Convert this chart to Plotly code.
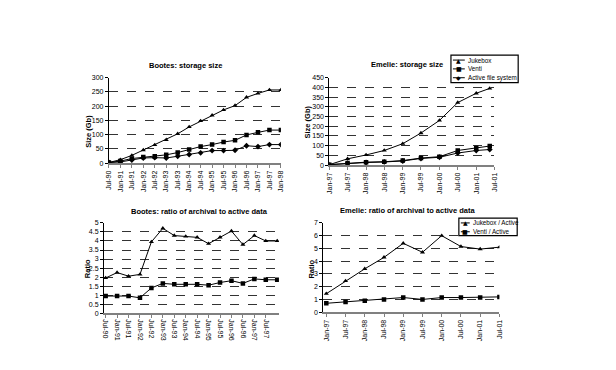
import plotly.graph_objects as go

# ---------------- data ----------------
bootes_size_labels = ["Jul-90", "Jan-91", "Jul-91", "Jan-92", "Jul-92", "Jan-93", "Jul-93", "Jan-94",
                      "Jul-94", "Jan-95", "Jul-95", "Jan-96", "Jul-96", "Jan-97", "Jul-97", "Jan-98"]
bootes_jukebox = [2, 12, 27, 46, 64, 82, 103, 127, 148, 168, 187, 202, 231, 245, 257, 257]
bootes_venti = [2, 7, 16, 21, 24, 29, 37, 48, 58, 65, 74, 80, 99, 108, 116, 116]
bootes_active = [2, 4, 11, 18, 19, 18, 24, 30, 36, 44, 44, 45, 61, 58, 65, 65]

bootes_ratio_labels = ["Jul-90", "Jan-91", "Jul-91", "Jan-92", "Jul-92", "Jan-93", "Jul-93", "Jan-94",
                       "Jul-94", "Jan-95", "Jul-95", "Jan-96", "Jul-96", "Jan-97", "Jul-97"]
bootes_ratio_jukebox = [1.95, 2.25, 2.05, 2.15, 3.95, 4.7, 4.3, 4.25, 4.2, 3.85, 4.2, 4.55, 3.8, 4.3, 4.0, 4.0]
bootes_ratio_venti = [0.95, 0.95, 0.95, 0.85, 1.4, 1.65, 1.6, 1.6, 1.6, 1.55, 1.7, 1.8, 1.65, 1.9, 1.85, 1.85]

emelie_dates = ["1997-01-01", "1997-07-01", "1998-01-01", "1998-07-01", "1999-01-01",
                "1999-07-01", "2000-01-01", "2000-07-01", "2001-01-01", "2001-05-15"]
emelie_tick_dates = ["1997-01-01", "1997-07-01", "1998-01-01", "1998-07-01", "1999-01-01",
                     "1999-07-01", "2000-01-01", "2000-07-01", "2001-01-01", "2001-07-01"]
emelie_labels = ["Jan-97", "Jul-97", "Jan-98", "Jul-98", "Jan-99", "Jul-99", "Jan-00", "Jul-00", "Jan-01", "Jul-01"]
emelie_jukebox = [2, 32, 52, 75, 110, 165, 230, 322, 370, 395]
emelie_venti = [2, 10, 15, 17, 23, 36, 43, 75, 88, 98]
emelie_active = [2, 9, 13, 16, 21, 34, 40, 62, 75, 80]

emelie_ratio_jukebox = [1.45, 2.45, 3.4, 4.3, 5.4, 4.7, 6.0, 5.15, 4.95, 5.1]
emelie_ratio_venti = [0.7, 0.8, 0.9, 1.0, 1.15, 1.0, 1.15, 1.15, 1.15, 1.2]

size_series_names = ["Jukebox", "Venti", "Active file system"]
ratio_series_names = ["Jukebox / Active", "Venti / Active"]

# ---------------- styling ----------------
W, H = 616, 370
FONT = "Liberation Sans, Arial, sans-serif"
line = dict(color="black", width=1)
SYMBOLS = ["triangle-up", "square", "diamond"]
GLYPHS = ["\u25B2", "\u25A0", "\u25C6"]


def px_x(x):
    return x / W


def px_y(y):
    return 1 - y / H


fig = go.Figure()


def add(x, y, xa, ya, name, symbol):
    fig.add_trace(go.Scatter(
        x=x, y=y, xaxis=xa, yaxis=ya, name=name, mode="lines+markers",
        line=line, marker=dict(symbol=symbol, size=4.5, color="black"),
        showlegend=False))


idx16 = list(range(len(bootes_jukebox)))
for vals, name, sym in zip([bootes_jukebox, bootes_venti, bootes_active], size_series_names, SYMBOLS):
    add(idx16, vals, "x", "y", name, sym)

for vals, name, sym in zip([emelie_jukebox, emelie_venti, emelie_active], size_series_names, SYMBOLS):
    add(emelie_dates, vals, "x2", "y2", name, sym)

idxr = list(range(len(bootes_ratio_jukebox)))
for vals, name, sym in zip([bootes_ratio_jukebox, bootes_ratio_venti], ratio_series_names, SYMBOLS):
    add(idxr, vals, "x3", "y3", name, sym)

idxe = list(range(len(emelie_ratio_jukebox)))
for vals, name, sym in zip([emelie_ratio_jukebox, emelie_ratio_venti], ratio_series_names, SYMBOLS):
    add(idxe, vals, "x4", "y4", name, sym)

tickfont = dict(family=FONT, size=7, color="black")


def xaxis(domain, anchor, tickvals, ticktext, rng, angle, typ="linear"):
    return dict(domain=domain, anchor=anchor, type=typ, tickvals=tickvals, ticktext=ticktext,
                range=rng, tickangle=angle, showgrid=False, zeroline=False,
                showline=True, linecolor="#808080", linewidth=1.5,
                ticks="outside", ticklen=3, tickcolor="#808080", tickfont=tickfont)


def yaxis(domain, anchor, rng, dtick):
    return dict(domain=domain, anchor=anchor, range=rng, dtick=dtick, tick0=0,
                showgrid=True, gridcolor="#333333", griddash="dash", gridwidth=1,
                zeroline=False, showline=True, linecolor="black", linewidth=1,
                ticks="outside", ticklen=3, tickcolor="black", tickfont=tickfont)


fig.update_layout(
    width=W, height=H, margin=dict(l=0, r=0, t=0, b=0),
    paper_bgcolor="white", plot_bgcolor="white",
    font=dict(family=FONT, size=7, color="black"),
    showlegend=False,
    xaxis=xaxis([px_x(98), px_x(272)], "y", idx16, bootes_size_labels, [0, 15], -90),
    yaxis=yaxis([px_y(154), px_y(67)], "x", [0, 300], 50),
    xaxis2=xaxis([px_x(321), px_x(488)], "y2", emelie_tick_dates, emelie_labels,
                 ["1997-01-01", "2001-07-01"], -90, "date"),
    yaxis2=yaxis([px_y(156), px_y(67)], "x2", [0, 450], 50),
    xaxis3=xaxis([px_x(93), px_x(270)], "y3", idxr[:len(bootes_ratio_labels)], bootes_ratio_labels,
                 [-0.15, 15.15], 90),
    yaxis3=yaxis([px_y(307), px_y(215)], "x3", [0, 5], 0.5),
    xaxis4=xaxis([px_x(315), px_x(493)], "y4", idxe, emelie_labels, [-0.15, 9.0], -90),
    yaxis4=yaxis([px_y(306), px_y(215)], "x4", [0, 7], 1),
)


# ---------- compact legends (box, line sample, marker glyph, label) ----------
def draw_legend(names, box, x_line0, x_line1, y_rows, x_text):
    x0, y0, x1, y1 = box
    fig.add_shape(type="rect", xref="paper", yref="paper",
                  x0=px_x(x0), x1=px_x(x1), y0=px_y(y0), y1=px_y(y1),
                  line=dict(color="black", width=1.2), fillcolor="white", layer="above")
    for i, name in enumerate(names):
        yy = y_rows[i]
        fig.add_shape(type="line", xref="paper", yref="paper",
                      x0=px_x(x_line0), x1=px_x(x_line1), y0=px_y(yy), y1=px_y(yy),
                      line=dict(color="black", width=1), layer="above")
        fig.add_annotation(text=GLYPHS[i], x=px_x((x_line0 + x_line1) / 2), y=px_y(yy),
                           xref="paper", yref="paper", showarrow=False,
                           font=dict(family="DejaVu Sans", size=6, color="black"),
                           xanchor="center", yanchor="middle")
        fig.add_annotation(text=name, x=px_x(x_text), y=px_y(yy), xref="paper", yref="paper",
                           showarrow=False, font=dict(family=FONT, size=6.3, color="black"),
                           xanchor="left", yanchor="middle")


draw_legend(size_series_names, (444, 44, 512, 72), 446, 458, [49, 58, 67], 459)
draw_legend(ratio_series_names, (452, 210, 511, 228), 454, 463, [215, 224], 464)

title_font = dict(family=FONT, size=7.5, color="black")
annos = [
    ("<b>Bootes: storage size</b>", 175, 55, 0),
    ("<b>Emelie: storage size</b>", 400, 54, 0),
    ("<b>Bootes: ratio of archival to active data</b>", 190, 203, 0),
    ("<b>Emelie: ratio of archival to active data</b>", 400, 202, 0),
    ("<b>Size (Gb)</b>", 78, 122, -90),
    ("<b>Size (Gb)</b>", 299, 112, -90),
    ("<b>Ratio</b>", 76, 262, -90),
    ("<b>Ratio</b>", 302, 262, -90),
]
for text, x, y, ang in annos:
    fig.add_annotation(text=text, x=px_x(x), y=px_y(y), xref="paper", yref="paper",
                       showarrow=False, textangle=ang, font=title_font,
                       xanchor="center", yanchor="middle")

fig.write_html("out.html")
